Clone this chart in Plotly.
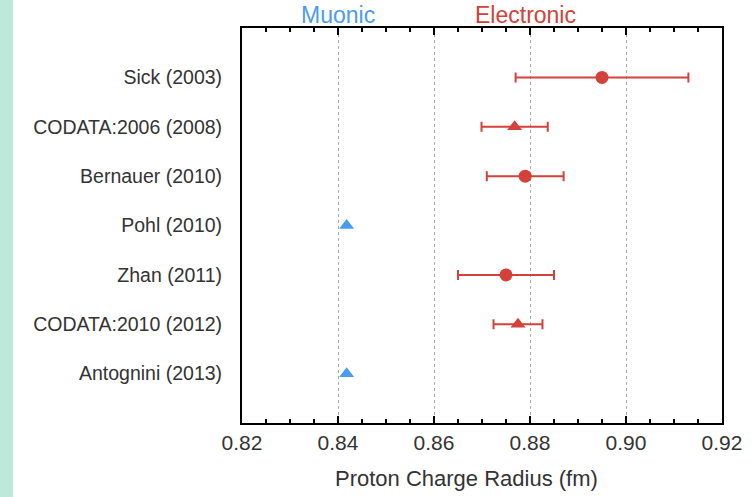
import plotly.graph_objects as go

labels = ["Sick (2003)", "CODATA:2006 (2008)", "Bernauer (2010)", "Pohl (2010)",
          "Zhan (2011)", "CODATA:2010 (2012)", "Antognini (2013)"]
radius = [0.895, 0.8768, 0.879, 0.8418, 0.875, 0.8775, 0.8418]
errors = [0.018, 0.0069, 0.008, 0.0, 0.010, 0.0051, 0.0]
kind = ["Electronic", "Electronic", "Electronic", "Muonic", "Electronic", "Electronic", "Muonic"]
symbols = ["circle", "triangle-up", "circle", "triangle-up", "circle", "triangle-up", "triangle-up"]
xticks = [0.82, 0.84, 0.86, 0.88, 0.90, 0.92]
xticklabels = ["0.82", "0.84", "0.86", "0.88", "0.90", "0.92"]
minor_xticks = [0.825, 0.83, 0.835, 0.845, 0.85, 0.855, 0.865, 0.87, 0.875,
                0.885, 0.89, 0.895, 0.905, 0.91, 0.915]

RED = "#d2413a"
BLUE = "#4a9cf0"
FONT = "Liberation Sans"
PLOT_H = 497 - 28 - 74

fig = go.Figure()

ypos = list(range(len(labels)))

for sym in ["circle", "triangle-up"]:
    idx = [i for i in ypos if kind[i] == "Electronic" and symbols[i] == sym]
    fig.add_trace(go.Scatter(
        x=[radius[i] for i in idx], y=idx, mode="markers",
        marker=dict(symbol=sym, size=13, color=RED),
        error_x=dict(type="data", array=[errors[i] for i in idx], color=RED,
                     thickness=2, width=5),
        showlegend=False, hoverinfo="x+y"))

idx = [i for i in ypos if kind[i] == "Muonic"]
fig.add_trace(go.Scatter(
    x=[radius[i] for i in idx], y=idx, mode="markers",
    marker=dict(symbol="triangle-up", size=13, color=BLUE),
    showlegend=False))

# top tick rows: free axes placed just below the top frame, ticks pointing up to it
top_common = dict(range=[0.82, 0.92], ticks="outside", tickwidth=1.5, tickcolor="#000000",
                  showline=False, zeroline=False, overlaying="x", side="top",
                  anchor="free", showticklabels=False, showgrid=False)

fig.update_layout(
    xaxis=dict(range=[0.82, 0.92], tickvals=xticks, ticktext=xticklabels,
               ticks="inside", ticklen=7, tickwidth=1.5, tickcolor="black",
               minor=dict(dtick=0.005, ticks="inside", ticklen=4, tickwidth=1.5,
                          tickcolor="black", showgrid=False),
               showline=True, linecolor="black", linewidth=2, mirror=True,
               zeroline=False,
               showgrid=True, gridcolor="#aaaaaa", griddash="dot", gridwidth=1,
               tickfont=dict(family=FONT, size=21, color="#333333"),
               ticklabelstandoff=0),
    xaxis2=dict(**top_common, tickvals=xticks[1:-1], ticklen=7,
                position=1 - 7 / PLOT_H),
    xaxis3=dict(**top_common, tickvals=minor_xticks, ticklen=4,
                position=1 - 4 / PLOT_H),
)

for ax in ["x2", "x3"]:
    fig.add_trace(go.Scatter(x=[0.82, 0.92], y=[ypos[0], ypos[0]], xaxis=ax, yaxis="y",
                             mode="markers", marker=dict(opacity=0),
                             showlegend=False, hoverinfo="skip"))

fig.update_yaxes(
    range=[7, -1], tickvals=ypos, ticktext=labels,
    ticks="", showline=True, linecolor="black", linewidth=2, mirror=True,
    showgrid=False, zeroline=False,
    tickfont=dict(family=FONT, size=19.5, color="#333333"),
    ticklabelstandoff=14)

fig.add_shape(type="rect", xref="paper", yref="paper",
              x0=-242 / 480, x1=(13 - 242) / 480, y0=-0.5, y1=1.5,
              fillcolor="#bde8da", line=dict(width=0), layer="below")

fig.add_annotation(x=0.84, y=1, xref="x", yref="paper", text="Muonic",
                   showarrow=False, yanchor="bottom", yshift=-2,
                   font=dict(family=FONT, size=23, color=BLUE))
fig.add_annotation(x=0.879, y=1, xref="x", yref="paper", text="Electronic",
                   showarrow=False, yanchor="bottom", yshift=-2,
                   font=dict(family=FONT, size=23, color=RED))
fig.add_annotation(x=(466 - 242) / 480, y=0, xref="paper", yref="paper",
                   text="Proton Charge Radius (fm)", showarrow=False,
                   yanchor="middle", yshift=-55,
                   font=dict(family=FONT, size=22, color="#333333"))

fig.update_layout(
    width=755, height=497,
    margin=dict(l=242, r=33, t=28, b=74),
    paper_bgcolor="white", plot_bgcolor="white")

fig.write_html("out.html")
